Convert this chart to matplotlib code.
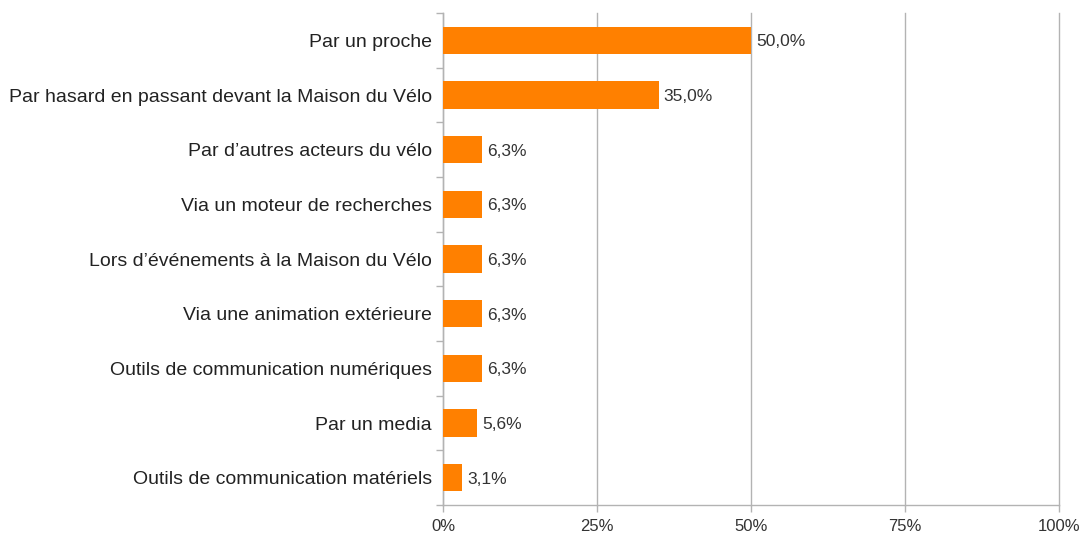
import numpy
import matplotlib
matplotlib.use("Agg")
import matplotlib.pyplot as pyplot
import matplotlib.ticker

pyplot.rcParams["font.family"] = ["Liberation Sans", "DejaVu Sans"]

categories = [
    "Par un proche",
    "Par hasard en passant devant la Maison du Vélo",
    "Par d’autres acteurs du vélo",
    "Via un moteur de recherches",
    "Lors d’événements à la Maison du Vélo",
    "Via une animation extérieure",
    "Outils de communication numériques",
    "Par un media",
    "Outils de communication matériels",
]
values = [50.0, 35.0, 6.3, 6.3, 6.3, 6.3, 6.3, 5.6, 3.1]
xTicks = [0, 25, 50, 75, 100]

gridColor = "#b3b3b3"
barColor = "#ff8000"

figure = pyplot.figure(figsize=(10.8, 5.35), dpi=100)
axis = figure.add_axes([443 / 1080, 1 - 505 / 535, 616 / 1080, 492 / 535])

positions = numpy.arange(len(categories))
axis.barh(positions, values, height=0.5, color=barColor, zorder=3)

for y, v in zip(positions, values):
    axis.text(v + 0.8, y + 0.03, ("%.1f%%" % v).replace(".", ","),
              va="center", ha="left", fontsize=12.5, color="#333333")

axis.set_ylim(len(categories) - 0.5, -0.5)
axis.set_xlim(0, 100)

axis.set_xticks(xTicks)
axis.set_xticklabels(["%d%%" % t for t in xTicks], fontsize=12, color="#333333")
axis.xaxis.grid(True, color=gridColor, linewidth=1.0, zorder=0)
for line in axis.xaxis.get_gridlines():
    line.set_clip_on(False)

axis.set_yticks(positions)
axis.set_yticklabels(categories, fontsize=14, color="#222222")
axis.tick_params(axis="y", length=0, pad=8)
axis.set_yticks(numpy.arange(len(categories) + 1) - 0.5, minor=True)
axis.tick_params(axis="y", which="minor", length=5, color=gridColor, width=1.0)
axis.tick_params(axis="x", length=5, color=gridColor, width=1.0, pad=5)

for side in ["top", "right"]:
    axis.spines[side].set_visible(False)
for side in ["left", "bottom"]:
    axis.spines[side].set_color(gridColor)
    axis.spines[side].set_linewidth(1.0)

figure.savefig("out.png", dpi=100)
